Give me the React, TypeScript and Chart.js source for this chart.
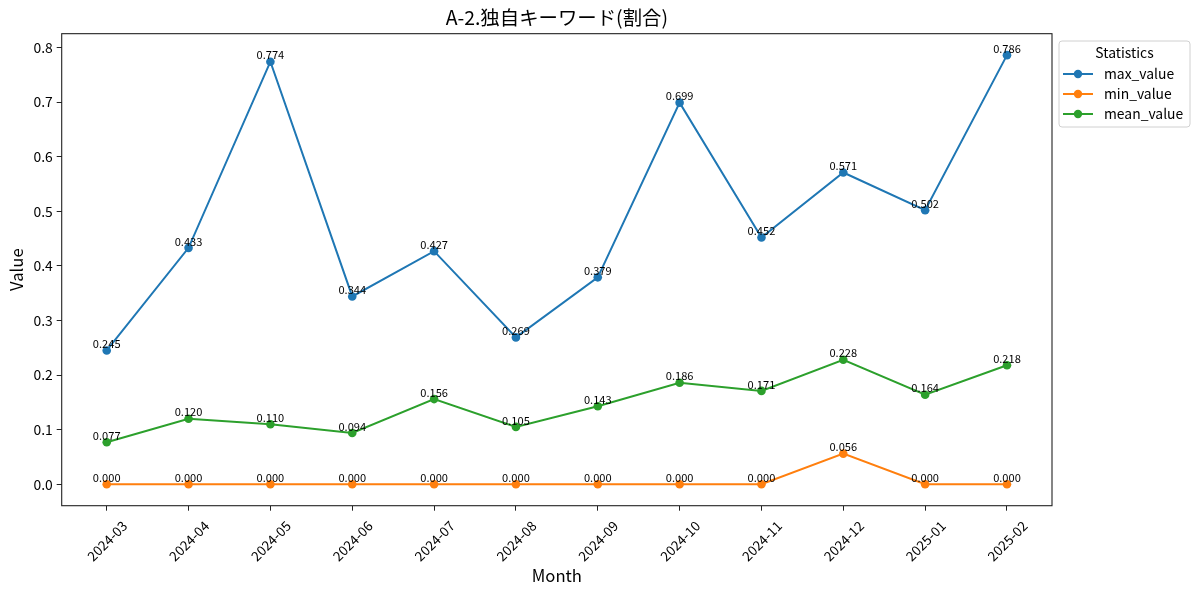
import React, { useRef, useEffect } from 'react'
import { Chart, registerables } from 'chart.js'

Chart.register(...registerables)

const months = [
	'2024-03', '2024-04', '2024-05', '2024-06', '2024-07', '2024-08',
	'2024-09', '2024-10', '2024-11', '2024-12', '2025-01', '2025-02',
]
const maxValues = [0.245, 0.433, 0.774, 0.344, 0.427, 0.269, 0.379, 0.699, 0.452, 0.571, 0.502, 0.786]
const minValues = [0, 0, 0, 0, 0, 0, 0, 0, 0, 0.056, 0, 0]
const meanValues = [0.077, 0.12, 0.11, 0.094, 0.156, 0.105, 0.143, 0.186, 0.171, 0.228, 0.164, 0.218]
const yTicks = [0, 0.1, 0.2, 0.3, 0.4, 0.5, 0.6, 0.7, 0.8]

const seriesNames = ['max_value', 'min_value', 'mean_value']
const seriesColors = ['#1f77b4', '#ff7f0e', '#2ca02c']

const FONT = "'Noto Sans CJK JP', 'Noto Sans', sans-serif"

// value labels above every point
const valueLabels = {
	id: 'valueLabels',
	afterDatasetsDraw(chart: any) {
		const ctx = chart.ctx
		ctx.save()
		ctx.font = `11.1px ${FONT}`
		ctx.fillStyle = '#000'
		ctx.textAlign = 'center'
		ctx.textBaseline = 'alphabetic'
		chart.data.datasets.forEach((ds: any, i: number) => {
			const meta = chart.getDatasetMeta(i)
			meta.data.forEach((pt: any, j: number) => {
				ctx.fillText(ds.data[j].y.toFixed(3), pt.x, pt.y - 2.3)
			})
		})
		ctx.restore()
	},
}

// axes frame + legend box
const frameAndLegend = {
	id: 'frameAndLegend',
	afterDraw(chart: any) {
		const ctx = chart.ctx
		const a = chart.chartArea
		ctx.save()
		ctx.strokeStyle = '#222'
		ctx.lineWidth = 1.1
		ctx.strokeRect(a.left, a.top, a.right - a.left, a.bottom - a.top)

		const lx = 1059
		const ly = 41
		const lw = 131
		const lh = 86
		ctx.beginPath()
		ctx.roundRect(lx, ly, lw, lh, 3)
		ctx.fillStyle = 'rgba(255,255,255,0.8)'
		ctx.fill()
		ctx.strokeStyle = '#d0d0d0'
		ctx.lineWidth = 1
		ctx.stroke()

		ctx.fillStyle = '#000'
		ctx.font = `13.9px ${FONT}`
		ctx.textBaseline = 'middle'
		ctx.textAlign = 'center'
		ctx.fillText('Statistics', lx + lw / 2, 53)
		ctx.textAlign = 'left'
		seriesNames.forEach((name, i) => {
			const y = 74 + i * 20
			ctx.strokeStyle = seriesColors[i]
			ctx.lineWidth = 2
			ctx.beginPath()
			ctx.moveTo(1063, y)
			ctx.lineTo(1093, y)
			ctx.stroke()
			ctx.fillStyle = seriesColors[i]
			ctx.beginPath()
			ctx.arc(1078, y, 4.2, 0, Math.PI * 2)
			ctx.fill()
			ctx.fillStyle = '#000'
			ctx.fillText(name, 1104, y)
		})
		ctx.restore()
	},
}

const LineChart: React.FC = () => {
	const chartRef = useRef<HTMLCanvasElement | null>(null)

	useEffect(() => {
		if (!chartRef.current) return
		const ctx = chartRef.current.getContext('2d')
		if (!ctx) return
		const series = [maxValues, minValues, meanValues]
		const newChart = new Chart(ctx, {
			type: 'line',
			data: {
				datasets: series.map((vals, i) => ({
					label: seriesNames[i],
					data: vals.map((v, j) => ({ x: j, y: v })),
					borderColor: seriesColors[i],
					backgroundColor: seriesColors[i],
					pointBackgroundColor: seriesColors[i],
					pointBorderWidth: 0,
					pointRadius: 4.3,
					borderWidth: 2,
					tension: 0,
				})),
			},
			options: {
				responsive: false,
				animation: false,
				devicePixelRatio: 1,
				layout: { padding: { left: 0, right: 148, top: 0, bottom: 0 } },
				plugins: {
					legend: { display: false },
					tooltip: { enabled: false },
					title: {
						display: true,
						text: 'A-2.独自キーワード(割合)',
						color: '#000',
						fullSize: false,
						font: { family: FONT, size: 19.4, weight: 'normal', lineHeight: 1.2 },
						padding: { top: 6, bottom: 4.4 },
					},
				},
				scales: {
					x: {
						type: 'linear',
						min: -0.55,
						max: 11.55,
						afterBuildTicks: (scale: any) => {
							scale.ticks = months.map((_, i) => ({ value: i }))
						},
						afterFit: (scale: any) => {
							scale.height = 89.3
						},
						grid: { drawOnChartArea: false, tickLength: 5, color: '#222' },
						border: { display: false },
						ticks: {
							autoSkip: false,
							minRotation: 45,
							maxRotation: 45,
							labelOffset: 18,
							padding: 7,
							color: '#000',
							font: { family: FONT, size: 13.5 },
							callback: (value: any) => months[value] ?? '',
						},
						title: {
							display: true,
							text: 'Month',
							color: '#000',
							font: { family: FONT, size: 16.7 },
							padding: { top: 0, bottom: 9 },
						},
					},
					y: {
						min: -0.0393,
						max: 0.8253,
						afterBuildTicks: (scale: any) => {
							scale.ticks = yTicks.map(v => ({ value: v }))
						},
						afterFit: (scale: any) => {
							scale.width = 61.7
						},
						grid: { drawOnChartArea: false, tickLength: 5, color: '#222' },
						border: { display: false },
						ticks: {
							padding: 4,
							color: '#000',
							font: { family: FONT, size: 13.9 },
							callback: (value: any) => Number(value).toFixed(1),
						},
						title: {
							display: true,
							text: 'Value',
							color: '#000',
							font: { family: FONT, size: 16.7 },
							padding: { top: 6.5, bottom: 0 },
						},
					},
				},
			},
			plugins: [valueLabels, frameAndLegend],
		})

		return () => {
			newChart.destroy()
		}
	}, [])

	return <canvas ref={chartRef} width={1200} height={595} />
}

const App: React.FC = () => (
	<div style={{ position: 'fixed', left: 0, top: 0, width: 1200, height: 595, background: '#fff' }}>
		<LineChart />
	</div>
)

export default App
